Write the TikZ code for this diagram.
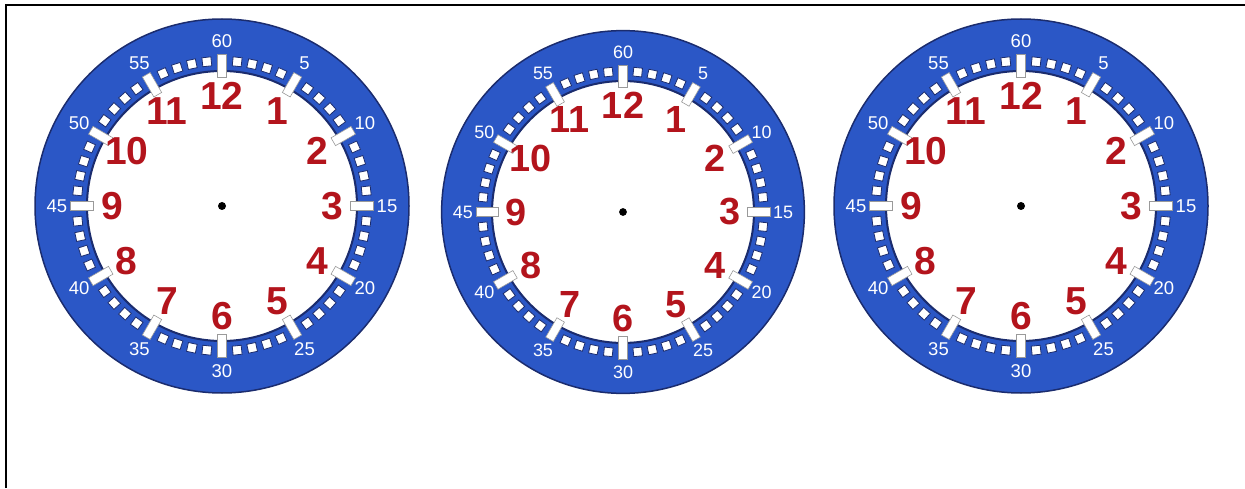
\documentclass[tikz,border=0pt]{standalone}
\usepackage{fontspec}
\setmainfont{Liberation Sans}
\usepackage{xcolor}
\usepackage{tikz}
\usetikzlibrary{positioning}
\definecolor{dialBlue}{HTML}{2B57C6}
\definecolor{dialNavy}{HTML}{1B2C6E}
\definecolor{hourRed}{HTML}{B3141C}
\definecolor{tickLine}{HTML}{9A9A9A}
\tikzset{
  hourlbl/.style={text=hourRed, font=\fontsize{39}{39}\selectfont\bfseries, inner sep=0pt},
  minlbl/.style={text=white, font=\fontsize{18.5}{18.5}\selectfont, inner sep=0pt},
  minsq/.style={fill=white, draw=dialNavy, line width=0.8pt, minimum size=9pt, inner sep=0pt},
  fivetick/.style={fill=white, draw=tickLine, line width=0.6pt, minimum width=23pt, minimum height=9pt, inner sep=0pt}
}

\begin{document}
\begin{tikzpicture}[x=1pt, y=1pt]
  \useasboundingbox (0,0) rectangle (1245,488);
  % frame: only top and left edges
  \draw[line width=2.5pt] (6,0) -- (6,483) -- (1245,483);
  % three clock dials
  \foreach \c/\cx/\cy/\s in {a/222/282/1, b/623/276/0.97, c/1021/282/1}{
    \begin{scope}[shift={(\cx,\cy)}, scale=\s, transform shape]
      \filldraw[fill=dialBlue, draw=dialNavy, line width=1.5pt] (0,0) circle (187);
      \filldraw[fill=white, draw=dialNavy, line width=2pt] (0,0) circle (135);
      % minute marks
      \foreach \m in {0,...,59}{
        \pgfmathtruncatemacro\rem{mod(\m,5)}
        \ifnum\rem=0
          \node[fivetick, rotate={90-6*\m}] (\c-tk\m) at ({90-6*\m}:140) {};
        \else
          \node[minsq, rotate={90-6*\m}] (\c-sq\m) at ({90-6*\m}:145) {};
        \fi
      }
      \foreach \m in {5,10,...,60}
        \node[minlbl] (\c-mn\m) at ({90-6*\m}:165) {\m};
      \foreach \h in {1,...,12}
        \node[hourlbl] (\c-hr\h) at ({90-30*\h}:110) {\h};
      \node[circle, fill=black, minimum size=8pt, inner sep=0pt] (\c-ctr) at (0,0) {};
    \end{scope}
  }
\end{tikzpicture}
\end{document}
